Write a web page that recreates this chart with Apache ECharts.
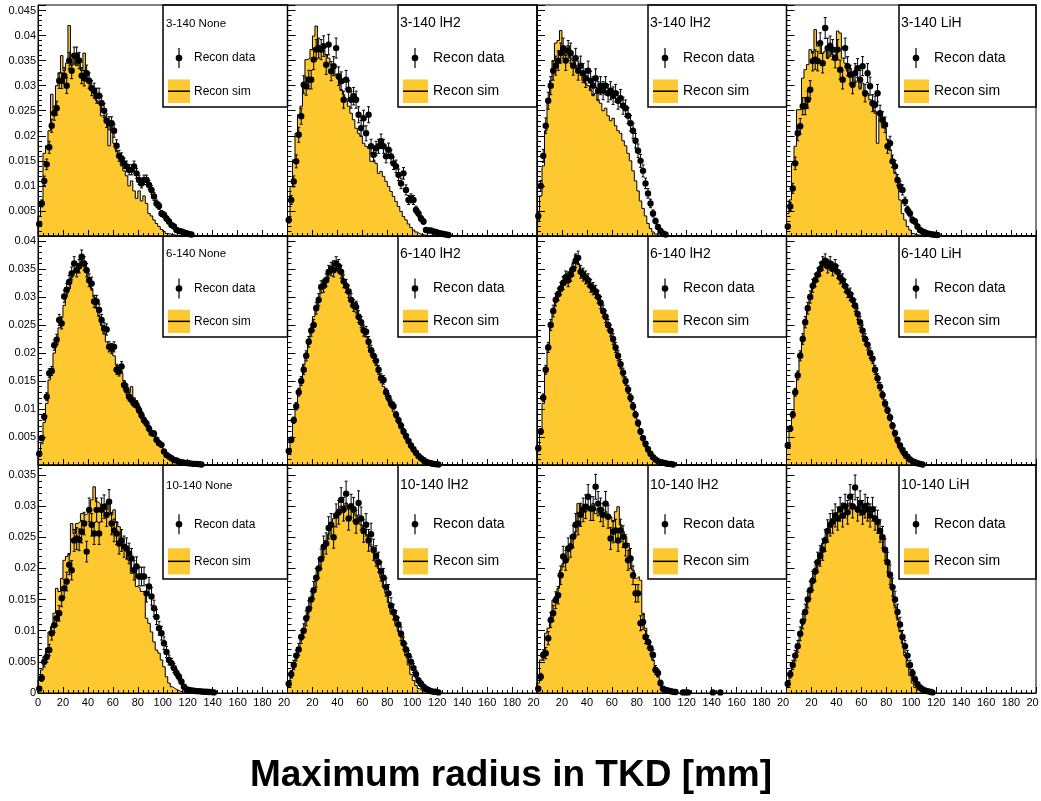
<!DOCTYPE html>
<html><head><meta charset="utf-8">
<script src="https://cdn.jsdelivr.net/npm/echarts/dist/echarts.min.js"></script>
<style>html,body{margin:0;padding:0;background:#fff}#c{width:1041px;height:801px}</style>
</head><body><div id="c"></div>
<script>
// ---------- DATA (values in units of 1e-3, bin width 2 mm starting at 0) ----------
const binWidth = 2;
const xTicks = [0, 20, 40, 60, 80, 100, 120, 140, 160, 180, 200];
const titles = [
  ['3-140 None', '3-140 lH2', '3-140 lH2', '3-140 LiH'],
  ['6-140 None', '6-140 lH2', '6-140 lH2', '6-140 LiH'],
  ['10-140 None', '10-140 lH2', '10-140 lH2', '10-140 LiH']
];
const xTitle = 'Maximum radius in TKD [mm]';
const legendData = 'Recon data';
const legendSim = 'Recon sim';

// Row 1
const simR1C1 = [4.0, 6.9, 16.5, 18.0, 21.0, 28.3, 25.0, 30.0, 32.5, 36.0, 33.0, 34.5, 42.0, 34.0, 35.5, 34.0, 34.5, 33.0, 36.5, 32.5, 30.5, 30.0, 28.5, 27.0, 26.5, 24.0, 24.0, 23.0, 18.0, 22.5, 18.5, 17.0, 16.0, 14.0, 13.0, 12.0, 10.0, 11.0, 9.0, 7.5, 9.0, 7.0, 8.0, 6.5, 4.5, 4.0, 3.2, 2.5, 1.9, 1.3, 0.9, 0.5, 0.4, 0.3, 0.2, 0.1];
const dataR1C1 = [2.4, 6.5, 11.0, 14.3, 17.7, 22.0, 24.5, 25.5, 31.0, 31.0, 32.0, 30.0, 35.0, 33.0, 36.0, 36.0, 35.0, 32.0, 31.5, 32.5, 31.0, 29.5, 29.0, 28.0, 28.0, 26.5, 25.0, 23.0, 22.5, 22.5, 21.0, 18.0, 16.0, 15.5, 14.5, 13.9, 13.2, 13.2, 13.9, 12.5, 11.2, 10.5, 11.2, 11.2, 10.2, 9.2, 7.9, 6.5, 6.0, 4.5, 4.2, 3.5, 2.9, 2.2, 1.9, 1.2, 1.0, 0.9, 0.7, 0.5, 0.4, 0.3];
const errR1C1 = [0.45, 0.7, 0.95, 1.05, 1.2, 1.3, 1.4, 1.4, 1.55, 1.55, 1.6, 1.55, 1.65, 1.6, 1.7, 1.7, 1.65, 1.6, 1.55, 1.6, 1.55, 1.5, 1.5, 1.5, 1.5, 1.45, 1.4, 1.35, 1.3, 1.3, 1.3, 1.2, 1.1, 1.1, 1.05, 1.05, 1.0, 1.0, 1.05, 1.0, 0.95, 0.9, 0.95, 0.95, 0.9, 0.85, 0.8, 0.7, 0.7, 0.6, 0.6, 0.55, 0.5, 0.4, 0.4, 0.3, 0.3, 0.25, 0.25, 0.2, 0.2, 0.15];

const simR1C2 = [3.9, 9.9, 15.2, 20.5, 24.2, 25.9, 30.5, 35.2, 35.5, 37.2, 39.9, 41.9, 37.9, 36.9, 37.2, 36.2, 35.5, 34.2, 33.5, 32.2, 31.2, 29.2, 28.2, 27.2, 25.9, 24.5, 23.2, 21.5, 20.5, 19.9, 18.5, 17.9, 17.5, 14.9, 15.2, 14.5, 12.5, 12.9, 11.9, 10.9, 9.9, 8.9, 7.9, 6.9, 5.9, 4.9, 3.9, 3.2, 2.4, 1.7, 1.2, 0.8, 0.5, 0.3, 0.2, 0.1];
const dataR1C2 = [3.2, 7.2, 10.9, 14.9, 20.2, 23.9, 30.2, 29.9, 31.2, 31.2, 35.2, 37.2, 37.5, 37.2, 37.9, 34.2, 38.2, 32.9, 33.9, 37.5, 31.9, 30.9, 27.2, 31.2, 29.2, 27.2, 27.9, 27.2, 24.2, 21.5, 23.5, 20.5, 24.2, 17.9, 16.2, 17.5, 17.9, 18.9, 17.9, 15.9, 17.2, 15.9, 14.5, 13.9, 12.2, 10.5, 12.5, 9.2, 7.2, 7.5, 7.2, 5.2, 4.5, 3.5, 2.9, 1.2, 1.1, 1.1, 0.9, 0.8, 0.6, 0.5, 0.4, 0.3, 0.2];
const errR1C2 = [0.6, 0.9, 1.1, 1.3, 1.5, 1.6, 1.8, 1.8, 1.85, 1.85, 1.95, 2.0, 2.0, 2.0, 2.05, 1.95, 2.05, 1.9, 1.9, 2.0, 1.85, 1.85, 1.7, 1.85, 1.8, 1.7, 1.75, 1.7, 1.6, 1.55, 1.6, 1.5, 1.6, 1.4, 1.35, 1.4, 1.4, 1.45, 1.4, 1.3, 1.35, 1.3, 1.25, 1.25, 1.15, 1.05, 1.15, 1.0, 0.9, 0.9, 0.9, 0.75, 0.7, 0.6, 0.55, 0.35, 0.35, 0.35, 0.3, 0.3, 0.25, 0.25, 0.2, 0.2, 0.15];

const simR1C3 = [3.0, 8.0, 14.0, 21.0, 27.0, 31.0, 35.0, 38.5, 39.0, 41.0, 37.0, 36.0, 38.0, 35.5, 35.0, 34.0, 33.0, 32.5, 31.0, 30.5, 30.0, 29.0, 28.0, 28.5, 27.0, 26.5, 25.0, 25.5, 24.0, 23.0, 23.5, 22.0, 21.0, 20.5, 19.0, 18.0, 16.5, 15.0, 13.0, 11.0, 9.0, 7.0, 5.5, 4.0, 2.5, 1.5, 0.8, 0.4, 0.2, 0.1];
const dataR1C3 = [4.0, 10.0, 16.0, 22.0, 27.0, 30.0, 33.0, 34.0, 35.0, 36.5, 37.5, 35.0, 37.0, 36.5, 34.0, 35.5, 33.0, 34.0, 32.5, 31.5, 33.0, 31.0, 30.0, 31.5, 29.0, 30.0, 29.0, 30.0, 28.5, 29.0, 28.0, 28.5, 27.0, 27.5, 26.0, 25.5, 24.0, 22.5, 21.0, 19.0, 17.0, 15.0, 13.0, 10.5, 8.5, 6.5, 4.5, 3.0, 1.8, 1.0, 0.5, 0.3];
const errR1C3 = [0.65, 1.05, 1.3, 1.55, 1.7, 1.8, 1.9, 1.9, 1.95, 2.0, 2.0, 1.95, 2.0, 2.0, 1.9, 1.95, 1.9, 1.9, 1.9, 1.85, 1.9, 1.85, 1.8, 1.85, 1.8, 1.8, 1.8, 1.8, 1.75, 1.8, 1.75, 1.75, 1.7, 1.75, 1.7, 1.65, 1.6, 1.55, 1.5, 1.45, 1.35, 1.3, 1.2, 1.05, 0.95, 0.85, 0.7, 0.55, 0.45, 0.35, 0.25, 0.2];

const simR1C4 = [4.5, 7.2, 14.5, 17.9, 25.2, 25.2, 31.5, 33.2, 34.2, 37.2, 36.5, 41.2, 37.9, 38.5, 36.5, 36.9, 35.5, 38.5, 36.2, 35.5, 40.9, 40.5, 35.5, 34.5, 32.9, 33.5, 31.9, 30.9, 31.2, 29.5, 30.5, 27.9, 28.5, 27.2, 25.9, 24.9, 18.5, 23.9, 21.9, 21.5, 19.2, 17.2, 15.2, 12.5, 10.9, 7.2, 4.5, 3.2, 1.9, 1.2, 0.5, 0.3, 0.2, 0.1];
const dataR1C4 = [1.9, 5.9, 9.5, 14.5, 20.5, 21.9, 25.9, 25.9, 27.2, 29.2, 34.9, 35.2, 34.9, 38.5, 34.5, 41.5, 37.5, 37.9, 37.2, 35.5, 37.2, 33.2, 31.2, 37.5, 33.9, 32.2, 30.2, 32.5, 33.5, 31.2, 33.9, 28.5, 32.5, 29.9, 26.5, 26.2, 28.5, 24.5, 23.2, 22.2, 17.9, 18.5, 14.9, 13.9, 11.2, 9.9, 9.2, 6.9, 5.2, 4.5, 3.2, 2.9, 1.9, 1.2, 0.9, 0.7, 0.5, 0.4, 0.3, 0.25, 0.2];
const errR1C4 = [0.45, 0.8, 1.0, 1.25, 1.5, 1.55, 1.7, 1.7, 1.7, 1.8, 1.95, 1.95, 1.95, 2.05, 1.95, 2.1, 2.0, 2.0, 2.0, 1.95, 2.0, 1.9, 1.85, 2.0, 1.9, 1.85, 1.8, 1.9, 1.9, 1.85, 1.9, 1.75, 1.9, 1.8, 1.7, 1.7, 1.75, 1.6, 1.6, 1.55, 1.4, 1.4, 1.25, 1.2, 1.1, 1.05, 1.0, 0.85, 0.75, 0.7, 0.6, 0.55, 0.45, 0.35, 0.3, 0.25, 0.25, 0.2, 0.2, 0.15, 0.15];

// Row 2
const simR2C1 = [1.5, 3.8, 7.6, 11.0, 15.2, 17.0, 20.0, 21.5, 24.5, 26.5, 28.5, 30.5, 31.5, 33.5, 34.5, 35.0, 35.5, 36.5, 35.5, 34.5, 33.0, 31.5, 30.0, 28.0, 26.5, 25.0, 23.5, 22.0, 21.5, 20.5, 19.5, 18.0, 17.5, 16.5, 15.0, 14.5, 13.0, 14.0, 12.0, 11.5, 10.5, 9.5, 8.5, 7.8, 7.0, 6.0, 5.2, 4.6, 3.8, 3.2, 2.6, 2.0, 1.6, 1.2, 0.9, 0.7, 0.5, 0.4, 0.3, 0.2, 0.2, 0.1, 0.1];
const dataR2C1 = [2.0, 4.8, 8.6, 12.2, 16.4, 16.8, 21.4, 22.4, 25.9, 25.3, 30.1, 31.3, 32.7, 34.2, 36.0, 34.8, 35.5, 37.2, 36.0, 34.8, 33.0, 32.4, 29.2, 29.2, 27.7, 25.9, 24.4, 24.2, 21.1, 20.8, 21.1, 17.0, 16.7, 17.6, 14.3, 13.4, 12.2, 11.6, 11.0, 10.7, 9.8, 8.9, 8.0, 7.4, 6.5, 5.7, 5.6, 4.5, 3.9, 3.6, 2.4, 1.8, 1.5, 1.2, 0.9, 0.8, 0.6, 0.5, 0.4, 0.35, 0.3, 0.25, 0.2, 0.2, 0.15, 0.1];
const errR2C1 = [0.3, 0.45, 0.6, 0.7, 0.8, 0.8, 0.9, 0.95, 1.0, 1.0, 1.1, 1.1, 1.15, 1.15, 1.2, 1.2, 1.2, 1.2, 1.2, 1.2, 1.15, 1.15, 1.1, 1.1, 1.05, 1.0, 1.0, 1.0, 0.9, 0.9, 0.9, 0.8, 0.8, 0.85, 0.75, 0.75, 0.7, 0.7, 0.65, 0.65, 0.6, 0.6, 0.55, 0.55, 0.5, 0.5, 0.5, 0.45, 0.4, 0.4, 0.3, 0.3, 0.25, 0.2, 0.2, 0.2, 0.15, 0.15, 0.1, 0.1, 0.1, 0.1, 0.1, 0.1, 0.1, 0.1];

const simR2C2 = [2.0, 4.0, 7.5, 10.0, 12.5, 15.5, 18.0, 20.0, 22.5, 24.5, 26.5, 28.5, 30.0, 31.5, 33.0, 33.5, 34.5, 35.0, 36.5, 35.5, 34.5, 34.0, 33.0, 32.5, 31.0, 29.5, 28.0, 29.0, 26.0, 25.0, 24.5, 23.0, 21.5, 20.0, 19.5, 18.0, 16.5, 15.5, 14.0, 13.0, 11.5, 10.5, 9.5, 8.5, 7.5, 6.5, 5.5, 4.5, 3.8, 3.0, 2.3, 1.7, 1.2, 0.8, 0.5, 0.3, 0.2, 0.1];
const dataR2C2 = [2.5, 4.5, 8.0, 10.5, 13.0, 15.0, 17.0, 19.5, 22.0, 24.0, 25.0, 28.0, 29.5, 31.8, 32.0, 33.0, 34.5, 35.0, 34.8, 36.0, 35.5, 34.5, 32.8, 32.0, 31.0, 29.5, 28.5, 28.2, 26.5, 25.5, 24.0, 23.8, 22.0, 20.5, 19.5, 18.6, 17.0, 15.5, 15.2, 13.0, 12.0, 11.0, 10.5, 9.0, 8.0, 7.0, 6.0, 5.2, 4.3, 3.5, 2.8, 2.2, 1.6, 1.2, 0.9, 0.6, 0.4, 0.3, 0.2, 0.15, 0.1];
const errR2C2 = [0.3, 0.45, 0.55, 0.65, 0.7, 0.8, 0.85, 0.9, 0.95, 1.0, 1.0, 1.05, 1.1, 1.1, 1.15, 1.15, 1.15, 1.2, 1.2, 1.2, 1.2, 1.15, 1.15, 1.15, 1.1, 1.1, 1.05, 1.05, 1.05, 1.0, 1.0, 0.95, 0.95, 0.9, 0.9, 0.85, 0.8, 0.8, 0.75, 0.7, 0.7, 0.65, 0.65, 0.6, 0.55, 0.55, 0.5, 0.45, 0.4, 0.35, 0.35, 0.3, 0.25, 0.2, 0.2, 0.15, 0.1, 0.1, 0.1, 0.1, 0.1];

const simR2C3 = [2.5, 5.5, 11.0, 16.5, 21.5, 25.5, 28.0, 30.0, 31.0, 32.0, 33.0, 34.0, 34.5, 35.0, 36.0, 37.5, 36.0, 35.0, 34.5, 33.5, 32.5, 32.0, 31.0, 30.5, 29.5, 28.5, 27.0, 26.0, 25.0, 23.5, 22.0, 20.5, 19.0, 17.5, 16.0, 14.5, 13.0, 11.5, 10.0, 8.5, 7.0, 5.5, 4.3, 3.2, 2.3, 1.6, 1.0, 0.6, 0.4, 0.2, 0.1];
const dataR2C3 = [3.0, 6.0, 12.0, 17.0, 21.0, 25.0, 27.5, 29.5, 30.5, 31.5, 32.5, 33.5, 33.0, 34.0, 35.0, 36.5, 37.0, 34.5, 34.0, 33.5, 33.0, 32.0, 31.5, 31.0, 30.0, 29.0, 27.5, 26.5, 25.0, 24.0, 22.5, 21.0, 19.5, 18.0, 16.5, 15.0, 13.5, 12.0, 10.5, 9.0, 7.5, 6.0, 4.8, 3.8, 2.8, 2.0, 1.4, 1.0, 0.7, 0.5, 0.4, 0.3, 0.2, 0.2, 0.1];
const errR2C3 = [0.35, 0.5, 0.7, 0.8, 0.9, 1.0, 1.05, 1.1, 1.1, 1.1, 1.15, 1.15, 1.15, 1.15, 1.2, 1.2, 1.2, 1.15, 1.15, 1.15, 1.15, 1.15, 1.1, 1.1, 1.1, 1.1, 1.05, 1.05, 1.0, 1.0, 0.95, 0.9, 0.9, 0.85, 0.8, 0.75, 0.75, 0.7, 0.65, 0.6, 0.55, 0.5, 0.45, 0.4, 0.35, 0.3, 0.25, 0.2, 0.15, 0.15, 0.1, 0.1, 0.1, 0.1, 0.1];

const simR2C4 = [3.0, 6.0, 9.5, 13.5, 16.5, 20.0, 23.0, 26.0, 28.5, 30.5, 32.5, 33.5, 34.5, 35.5, 36.0, 36.0, 36.5, 35.5, 35.0, 35.0, 34.0, 33.5, 32.5, 31.5, 31.0, 30.0, 29.0, 28.0, 26.5, 25.5, 24.0, 23.0, 21.5, 20.0, 18.5, 17.0, 15.5, 14.0, 12.5, 11.0, 9.5, 8.0, 6.5, 5.0, 3.8, 2.8, 1.9, 1.2, 0.7, 0.4, 0.2, 0.1];
const dataR2C4 = [3.5, 6.5, 9.0, 13.0, 16.0, 19.5, 22.5, 25.5, 28.0, 30.0, 32.0, 33.0, 34.0, 35.0, 36.0, 36.5, 35.5, 36.0, 35.0, 35.5, 34.5, 33.5, 33.0, 32.0, 31.0, 30.5, 29.5, 28.5, 27.0, 25.5, 24.0, 22.5, 21.5, 20.0, 19.0, 17.0, 15.5, 14.0, 12.5, 11.0, 9.8, 8.5, 7.0, 5.7, 4.5, 3.5, 2.7, 2.0, 1.5, 1.0, 0.7, 0.5, 0.3, 0.2, 0.1];
const errR2C4 = [0.4, 0.5, 0.6, 0.7, 0.8, 0.9, 0.95, 1.0, 1.05, 1.1, 1.15, 1.15, 1.15, 1.2, 1.2, 1.2, 1.2, 1.2, 1.2, 1.2, 1.15, 1.15, 1.15, 1.15, 1.1, 1.1, 1.1, 1.05, 1.05, 1.0, 1.0, 0.95, 0.95, 0.9, 0.85, 0.8, 0.8, 0.75, 0.7, 0.65, 0.6, 0.6, 0.55, 0.5, 0.45, 0.4, 0.35, 0.3, 0.25, 0.2, 0.15, 0.15, 0.1, 0.1, 0.1];

// Row 3
const simR3C1 = [2.1, 3.7, 5.8, 7.2, 9.8, 10.6, 12.8, 16.8, 16.3, 18.4, 21.3, 21.9, 22.4, 27.2, 25.6, 27.2, 27.5, 28.8, 28.6, 28.8, 29.6, 31.0, 33.1, 30.7, 30.4, 29.1, 29.6, 29.4, 30.4, 28.6, 29.4, 27.5, 26.7, 24.5, 23.7, 23.5, 21.3, 19.2, 19.7, 17.1, 16.8, 16.3, 16.3, 12.0, 11.2, 9.8, 8.2, 6.9, 6.4, 5.3, 4.2, 2.6, 1.6, 1.0, 0.7, 0.5, 0.3, 0.2, 0.1, 0.1];
const dataR3C1 = [0.7, 2.4, 5.0, 5.8, 6.9, 9.6, 10.9, 12.0, 12.8, 15.2, 16.8, 17.9, 20.6, 19.7, 24.5, 24.8, 24.6, 25.9, 27.2, 22.7, 29.4, 27.0, 25.6, 29.4, 25.6, 29.4, 29.9, 28.6, 30.7, 27.2, 26.1, 25.6, 24.0, 24.5, 23.5, 23.2, 22.4, 21.6, 19.7, 20.3, 18.7, 18.7, 18.7, 16.0, 17.1, 15.5, 13.6, 12.2, 10.4, 9.6, 8.0, 6.6, 5.3, 4.8, 4.0, 3.2, 2.6, 1.8, 1.0, 0.6, 0.5, 0.4, 0.35, 0.3, 0.3, 0.25, 0.2, 0.2, 0.15, 0.15, 0.1];
const errR3C1 = [0.3, 0.55, 0.8, 0.85, 0.9, 1.1, 1.15, 1.2, 1.25, 1.35, 1.45, 1.5, 1.6, 1.55, 1.75, 1.75, 1.75, 1.8, 1.8, 1.65, 1.9, 1.8, 1.75, 1.9, 1.75, 1.9, 1.9, 1.85, 1.95, 1.8, 1.8, 1.75, 1.7, 1.75, 1.7, 1.7, 1.65, 1.6, 1.55, 1.55, 1.5, 1.5, 1.5, 1.4, 1.45, 1.4, 1.3, 1.2, 1.1, 1.1, 1.0, 0.9, 0.8, 0.75, 0.7, 0.6, 0.55, 0.45, 0.35, 0.3, 0.25, 0.2, 0.2, 0.2, 0.2, 0.15, 0.15, 0.15, 0.1, 0.1, 0.1];

const simR3C2 = [1.2, 2.5, 4.0, 5.5, 7.0, 8.5, 10.0, 11.5, 13.0, 15.0, 16.5, 18.0, 20.0, 21.5, 23.0, 24.5, 25.5, 27.0, 28.0, 28.5, 29.5, 30.0, 29.0, 30.5, 29.5, 30.0, 29.0, 28.5, 28.0, 27.0, 26.0, 25.5, 24.5, 23.5, 22.5, 21.0, 20.0, 18.5, 17.0, 16.0, 14.5, 13.0, 12.5, 11.0, 10.0, 9.0, 7.5, 6.0, 4.5, 3.0, 2.0, 1.2, 0.7, 0.4, 0.2, 0.1];
const dataR3C2 = [1.5, 3.0, 4.5, 6.0, 7.0, 9.0, 10.0, 12.0, 13.5, 15.0, 16.5, 18.5, 20.0, 21.5, 23.5, 24.0, 26.5, 27.0, 25.0, 28.5, 29.0, 31.0, 29.5, 32.0, 28.0, 30.0, 29.5, 27.5, 30.5, 28.0, 26.0, 27.0, 24.5, 25.5, 23.0, 22.0, 21.0, 19.5, 18.5, 17.0, 16.0, 14.0, 13.0, 12.0, 11.0, 9.5, 8.0, 7.0, 6.0, 5.0, 4.0, 3.0, 2.0, 1.5, 1.0, 0.7, 0.5, 0.3, 0.2, 0.2, 0.1];
const errR3C2 = [0.4, 0.6, 0.75, 0.85, 0.95, 1.05, 1.1, 1.2, 1.3, 1.35, 1.4, 1.5, 1.55, 1.6, 1.7, 1.7, 1.8, 1.8, 1.75, 1.85, 1.9, 1.95, 1.9, 2.0, 1.85, 1.9, 1.9, 1.85, 1.95, 1.85, 1.8, 1.8, 1.75, 1.75, 1.7, 1.65, 1.6, 1.55, 1.5, 1.45, 1.4, 1.3, 1.25, 1.2, 1.15, 1.1, 1.0, 0.95, 0.85, 0.8, 0.7, 0.6, 0.5, 0.45, 0.35, 0.3, 0.25, 0.2, 0.15, 0.15, 0.1];

const simR3C3 = [1.6, 5.3, 6.6, 9.6, 10.4, 12.2, 14.9, 15.5, 16.8, 19.7, 20.8, 21.9, 22.7, 24.0, 25.1, 25.9, 30.4, 28.6, 30.2, 29.1, 29.9, 29.6, 30.4, 28.8, 29.6, 28.6, 29.4, 29.1, 28.0, 28.3, 27.5, 29.1, 29.9, 27.0, 25.9, 25.1, 24.0, 21.9, 19.7, 18.4, 18.7, 18.1, 12.8, 10.4, 8.5, 7.4, 5.3, 4.0, 2.6, 1.8, 1.0, 0.6, 0.3, 0.2, 0.1];
const dataR3C3 = [0.7, 2.6, 6.1, 6.4, 8.8, 11.7, 12.8, 14.9, 15.7, 18.9, 21.9, 21.3, 23.2, 23.5, 25.1, 27.0, 27.2, 28.6, 29.4, 29.9, 31.5, 29.6, 29.6, 33.1, 30.4, 29.4, 28.6, 30.4, 28.3, 24.8, 25.9, 26.1, 24.5, 26.1, 25.1, 23.7, 21.3, 21.6, 18.9, 16.0, 16.0, 11.2, 11.4, 9.0, 8.2, 7.2, 6.1, 3.7, 3.2, 1.6, 0.7, 0.5, 0.4, 0.3, 0.2, 0.15, 0, 0, 0.1, 0.1, 0.1, 0, 0, 0, 0, 0, 0, 0, 0, 0, 0.1, 0, 0, 0.1];
const errR3C3 = [0.3, 0.55, 0.85, 0.9, 1.05, 1.2, 1.25, 1.35, 1.4, 1.5, 1.65, 1.6, 1.7, 1.7, 1.75, 1.8, 1.8, 1.85, 1.9, 1.9, 1.95, 1.9, 1.9, 2.0, 1.95, 1.9, 1.85, 1.95, 1.85, 1.75, 1.8, 1.8, 1.75, 1.8, 1.75, 1.7, 1.6, 1.6, 1.5, 1.4, 1.4, 1.2, 1.2, 1.05, 1.0, 0.95, 0.85, 0.7, 0.6, 0.45, 0.3, 0.25, 0.2, 0.2, 0.15, 0.15, 0, 0, 0.1, 0.1, 0.1, 0, 0, 0, 0, 0, 0, 0, 0, 0, 0.1, 0, 0, 0.1];

const simR3C4 = [1.2, 2.8, 4.2, 6.0, 7.8, 9.5, 11.0, 13.0, 15.0, 16.5, 18.5, 20.0, 21.0, 22.5, 24.0, 25.0, 26.0, 27.0, 28.0, 28.5, 29.0, 29.5, 30.5, 29.5, 30.0, 30.5, 29.5, 30.0, 29.0, 30.0, 29.5, 29.0, 30.5, 29.0, 28.5, 28.0, 27.0, 26.0, 25.0, 23.0, 21.0, 18.5, 16.5, 14.0, 12.0, 10.0, 8.0, 6.0, 4.2, 2.8, 1.6, 0.9, 0.5, 0.3, 0.1];
const dataR3C4 = [1.5, 3.0, 4.5, 6.0, 7.5, 9.5, 11.5, 13.0, 15.0, 16.5, 18.0, 19.5, 21.0, 22.0, 23.0, 24.5, 26.0, 27.0, 27.5, 28.5, 28.0, 29.5, 28.5, 30.0, 29.0, 31.5, 30.0, 33.0, 29.5, 30.5, 29.0, 30.0, 29.5, 28.5, 29.5, 28.0, 27.5, 26.0, 25.0, 23.0, 21.0, 19.0, 17.0, 15.0, 13.0, 11.0, 9.0, 7.5, 6.0, 4.5, 3.2, 2.2, 1.4, 0.9, 0.6, 0.4, 0.3, 0.2, 0.1];
const errR3C4 = [0.4, 0.6, 0.75, 0.85, 0.95, 1.1, 1.2, 1.25, 1.35, 1.4, 1.5, 1.55, 1.6, 1.65, 1.7, 1.75, 1.8, 1.8, 1.85, 1.85, 1.85, 1.9, 1.85, 1.9, 1.9, 1.95, 1.9, 2.0, 1.9, 1.95, 1.9, 1.9, 1.9, 1.85, 1.9, 1.85, 1.85, 1.8, 1.75, 1.7, 1.6, 1.55, 1.45, 1.35, 1.25, 1.15, 1.05, 0.95, 0.85, 0.75, 0.6, 0.5, 0.4, 0.35, 0.25, 0.2, 0.2, 0.15, 0.1];

const simRows = [[simR1C1, simR1C2, simR1C3, simR1C4], [simR2C1, simR2C2, simR2C3, simR2C4], [simR3C1, simR3C2, simR3C3, simR3C4]];
const dataRows = [[dataR1C1, dataR1C2, dataR1C3, dataR1C4], [dataR2C1, dataR2C2, dataR2C3, dataR2C4], [dataR3C1, dataR3C2, dataR3C3, dataR3C4]];
const errRows = [[errR1C1, errR1C2, errR1C3, errR1C4], [errR2C1, errR2C2, errR2C3, errR2C4], [errR3C1, errR3C2, errR3C3, errR3C4]];

// ---------- LAYOUT ----------
const FONT = '"Liberation Sans", Arial, Helvetica, sans-serif';
const YELLOW = '#fec830';
const colLeft = [38, 287.5, 537, 786.5];
const colW = 249.5;
const rowTop = [5, 236, 465];
const rowH = [231, 229, 228];
const yMax = [0.0461, 0.0409, 0.0366];
const legLeft = [163, 398, 648, 899];
const legH = [102, 101, 114];

const grids = [], xAxes = [], yAxes = [], series = [], graphics = [];

function renderPoint(params, api) {
  const x = api.value(0), y = api.value(1), e = api.value(2);
  const p = api.coord([x, y]);
  const top = api.coord([x, y + e])[1];
  const bot = api.coord([x, Math.max(0, y - e)])[1];
  const cap = 1.5;
  return {
    type: 'group',
    children: [
      { type: 'line', shape: { x1: p[0], y1: top, x2: p[0], y2: bot }, style: { stroke: '#000', lineWidth: 1 } },
      { type: 'line', shape: { x1: p[0] - cap, y1: top, x2: p[0] + cap, y2: top }, style: { stroke: '#000', lineWidth: 1 } },
      { type: 'line', shape: { x1: p[0] - cap, y1: bot, x2: p[0] + cap, y2: bot }, style: { stroke: '#000', lineWidth: 1 } },
      { type: 'circle', shape: { cx: p[0], cy: p[1], r: 3.2 }, style: { fill: '#000' } }
    ]
  };
}

function yFmt(v) { return v === 0 ? '0' : String(parseFloat(v.toFixed(4))); }

for (let r = 0; r < 3; r++) {
  for (let c = 0; c < 4; c++) {
    const k = r * 4 + c;
    grids.push({
      left: colLeft[c], top: rowTop[r], width: colW, height: rowH[r],
      show: true, borderColor: '#000', borderWidth: 1, backgroundColor: 'transparent',
      containLabel: false, outerBoundsMode: 'none', z: 6
    });
    xAxes.push({
      gridIndex: k, type: 'value', min: xTicks[0], max: xTicks[xTicks.length - 1], interval: xTicks[1] - xTicks[0],
      z: 6,
      axisLine: { show: true, onZero: false, lineStyle: { color: '#000', width: 1 } },
      axisTick: { show: true, inside: true, length: 6, lineStyle: { color: '#000', width: 1 } },
      minorTick: { show: true, splitNumber: 5, length: 3, lineStyle: { color: '#000', width: 1 } },
      splitLine: { show: false }, minorSplitLine: { show: false },
      axisLabel: {
        show: r === 2, margin: 4, color: '#000', fontFamily: FONT, fontSize: 11,
        showMinLabel: c === 0, showMaxLabel: true, hideOverlap: false,
        formatter: v => v === 200 ? '{c|20}' : String(v),
        rich: { c: { fontFamily: FONT, fontSize: 11, color: '#000', padding: [0, 7, 0, 0] } }
      }
    });
    yAxes.push({
      gridIndex: k, type: 'value', min: 0, max: yMax[r], interval: 0.005,
      z: 6,
      axisLine: { show: true, onZero: false, lineStyle: { color: '#000', width: 1 } },
      axisTick: { show: true, inside: true, length: 8, lineStyle: { color: '#000', width: 1 } },
      minorTick: { show: true, splitNumber: 5, length: 4, lineStyle: { color: '#000', width: 1 } },
      splitLine: { show: false }, minorSplitLine: { show: false },
      axisLabel: {
        show: c === 0, margin: 2, color: '#000', fontFamily: FONT, fontSize: 11,
        showMinLabel: r === 2, showMaxLabel: false, hideOverlap: false,
        formatter: yFmt
      }
    });

    const sim = simRows[r][c];
    const simPts = [[0, 0]].concat(sim.map((v, i) => [i * binWidth, v / 1000]));
    simPts.push([sim.length * binWidth, 0]);
    series.push({
      type: 'line', xAxisIndex: k, yAxisIndex: k, step: 'end', data: simPts,
      symbol: 'none', showSymbol: false, silent: true, animation: false, z: 2,
      lineStyle: { color: '#000', width: 1 },
      areaStyle: { color: YELLOW, opacity: 1 }
    });

    const dat = dataRows[r][c], err = errRows[r][c];
    const pts = [];
    dat.forEach((v, i) => { if (v > 0) pts.push([(i + 0.5) * binWidth, v / 1000, (err[i] || 0) / 1000]); });
    series.push({
      type: 'custom', xAxisIndex: k, yAxisIndex: k, coordinateSystem: 'cartesian2d',
      data: pts, renderItem: renderPoint, clip: false, silent: true, animation: false, z: 4
    });

    // legend box
    const L = legLeft[c], R = colLeft[c] + colW, T = rowTop[r], H = legH[r];
    const small = c === 0;
    const fsT = small ? 11.5 : 14, fsE = small ? 12 : 14;
    const mx = L + (small ? 16 : 17), my = T + 0.52 * H;
    const bx0 = L + 5, bx1 = L + (small ? 27 : 30);
    const by0 = T + 0.73 * H, by1 = T + 0.96 * H;
    const tx = L + (small ? 31 : 35);
    graphics.push({
      type: 'group', z: 20, silent: true,
      children: [
        { type: 'rect', shape: { x: L, y: T, width: R - L, height: H }, style: { fill: '#fff', stroke: '#000', lineWidth: 1.5 } },
        { type: 'text', style: { text: titles[r][c], x: L + (small ? 3 : 2), y: T + 0.18 * H, verticalAlign: 'middle', font: fsT + 'px ' + FONT, fill: '#000' } },
        { type: 'line', shape: { x1: mx, y1: my - 10, x2: mx, y2: my + 10 }, style: { stroke: '#000', lineWidth: 1.2 } },
        { type: 'circle', shape: { cx: mx, cy: my, r: 3.3 }, style: { fill: '#000' } },
        { type: 'text', style: { text: legendData, x: tx, y: my, verticalAlign: 'middle', font: fsE + 'px ' + FONT, fill: '#000' } },
        { type: 'rect', shape: { x: bx0, y: by0, width: bx1 - bx0, height: by1 - by0 }, style: { fill: YELLOW } },
        { type: 'line', shape: { x1: bx0, y1: (by0 + by1) / 2, x2: bx1, y2: (by0 + by1) / 2 }, style: { stroke: '#000', lineWidth: 1.5 } },
        { type: 'text', style: { text: legendSim, x: tx, y: (by0 + by1) / 2, verticalAlign: 'middle', font: fsE + 'px ' + FONT, fill: '#000' } }
      ]
    });
  }
}

graphics.push({
  type: 'text', z: 20, silent: true,
  style: { text: xTitle, x: 511, y: 776, align: 'center', verticalAlign: 'middle', font: 'bold 37px ' + FONT, fill: '#000' }
});

const chart = echarts.init(document.getElementById('c'), null, { renderer: 'canvas' });
chart.setOption({
  backgroundColor: '#fff',
  animation: false,
  grid: grids, xAxis: xAxes, yAxis: yAxes, series: series, graphic: graphics
});
</script>
</body></html>
